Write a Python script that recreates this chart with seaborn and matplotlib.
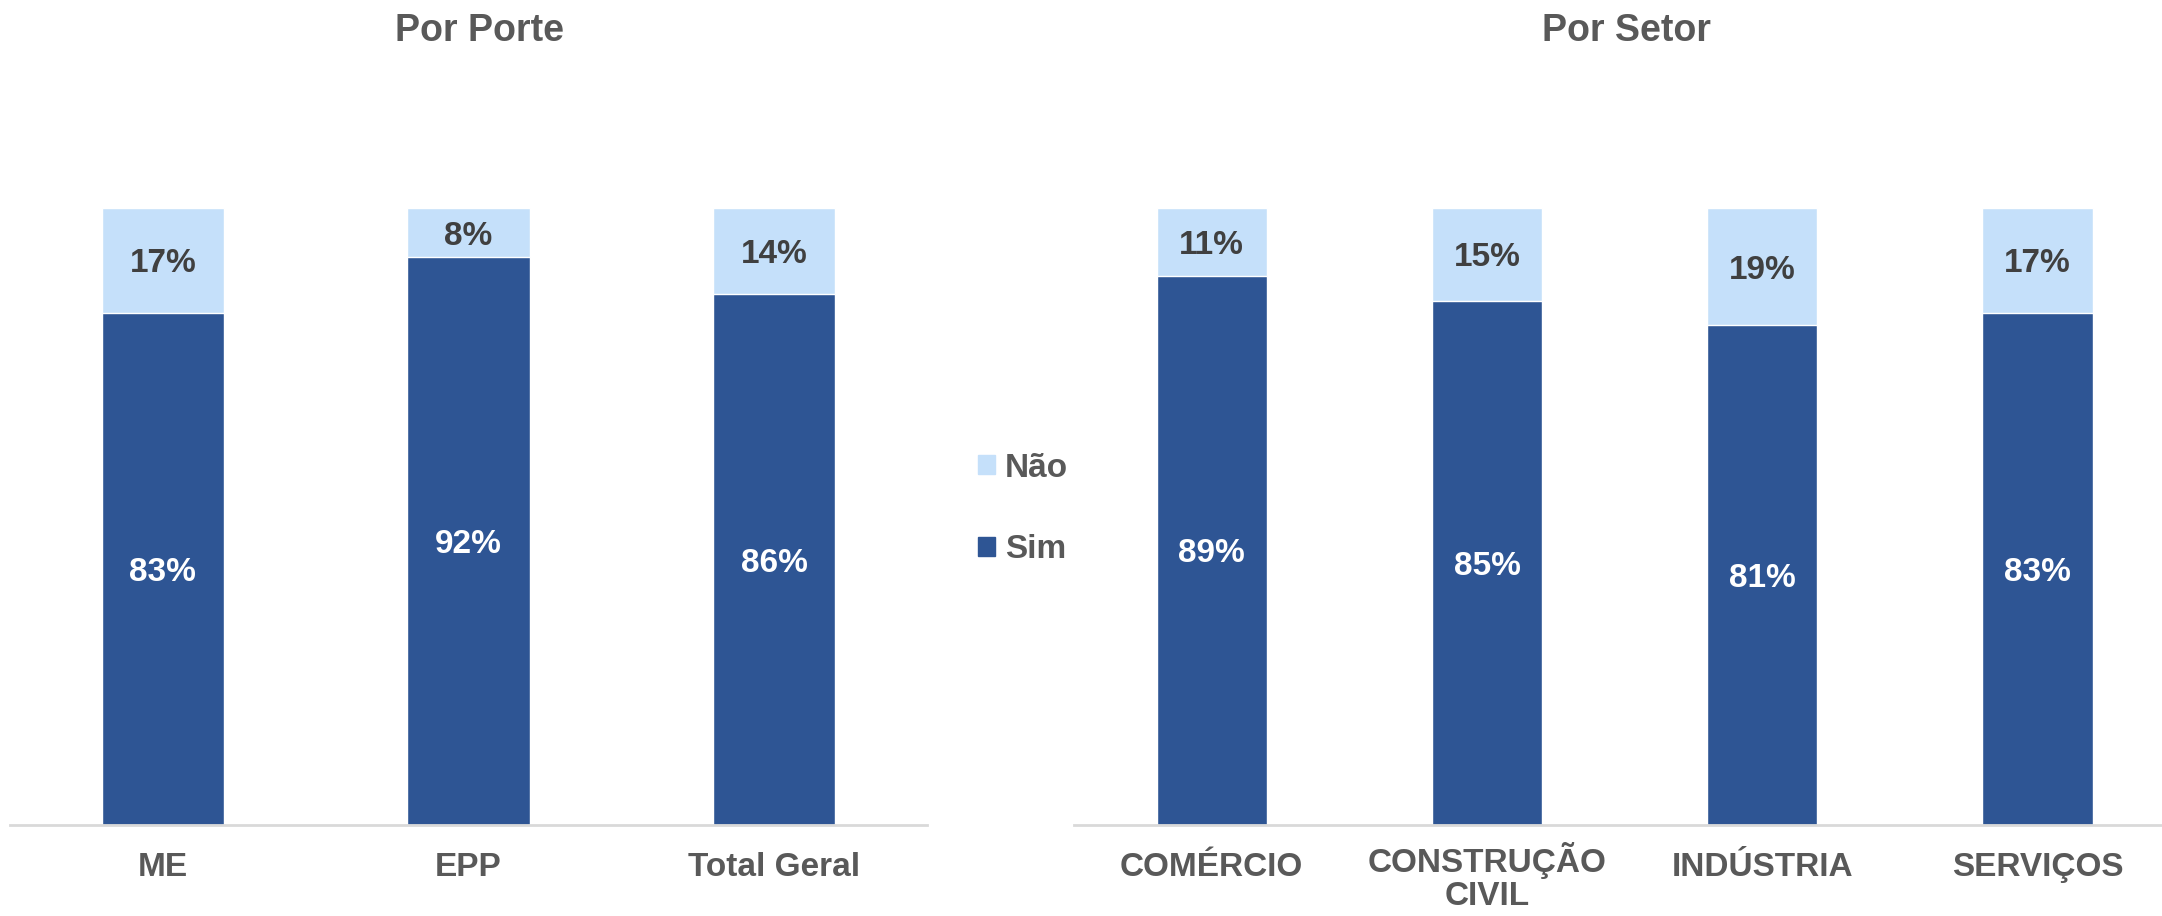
import seaborn as sns
import matplotlib.pyplot as plt
import pandas as pd
from matplotlib.patches import Patch
from matplotlib.transforms import ScaledTranslation

# dados
porte = ['ME', 'EPP', 'Total Geral']
porte_sim = [83, 92, 86]
porte_nao = [17, 8, 14]

setor = ['COMÉRCIO', 'CONSTRUÇÃO\nCIVIL', 'INDÚSTRIA', 'SERVIÇOS']
setor_sim = [89, 85, 81, 83]
setor_nao = [11, 15, 19, 17]

azul = '#2E5594'
azul_claro = '#C5E0FA'
cinza = '#595959'

sns.set_style('white')
plt.rcParams['font.family'] = ['Liberation Sans', 'DejaVu Sans']
plt.rcParams['font.weight'] = 'bold'

fig = plt.figure(figsize=(21.62, 9.16), dpi=100)
ax1 = fig.add_axes([10 / 2162, 91 / 916, 917 / 2162, 617 / 916])
ax2 = fig.add_axes([1074 / 2162, 91 / 916, 1088 / 2162, 617 / 916])


def empilhado(ax, cats, sim, nao, xmax):
    df = pd.DataFrame({'cat': cats, 'sim': sim, 'nao': nao})
    df['total'] = df['sim'] + df['nao']
    sns.barplot(data=df, x='cat', y='total', color=azul_claro, width=0.4,
                saturation=1, ax=ax)
    sns.barplot(data=df, x='cat', y='sim', color=azul, width=0.4,
                saturation=1, ax=ax)
    for i, row in df.iterrows():
        ax.text(i, row['sim'] / 2, f"{row['sim']}%", ha='center',
                va='center_baseline', color='white', fontsize=24,
                fontweight='bold')
        ax.text(i, row['sim'] + row['nao'] / 2, f"{row['nao']}%", ha='center',
                va='center_baseline', color='#404040', fontsize=24,
                fontweight='bold')
    ax.set_ylim(0, 100)
    ax.set_xlim(-0.5, xmax)
    ax.set_xlabel('')
    ax.set_ylabel('')
    ax.set_yticks([])
    for s in ['top', 'right', 'left']:
        ax.spines[s].set_visible(False)
    ax.spines['bottom'].set_color('#D9D9D9')
    ax.spines['bottom'].set_linewidth(2)
    ax.tick_params(axis='x', length=0, pad=36.5, labelsize=24, labelcolor=cinza)
    for t in ax.get_xticklabels():
        t.set_fontweight('bold')
        t.set_va('baseline')
        t.set_linespacing(1.1)
        n = t.get_text().count('\n')
        if n:
            # baseline vale para a ultima linha: desce o rotulo de duas linhas
            t.set_transform(t.get_transform()
                            + ScaledTranslation(0, -0.295 * n, fig.dpi_scale_trans))


empilhado(ax1, porte, porte_sim, porte_nao, 2.5)
empilhado(ax2, setor, setor_sim, setor_nao, -0.5 + 1088 / 275.3)

fig.text(480 / 2162, 1 - 31 / 916, 'Por Porte', ha='center', va='center',
         fontsize=27, fontweight='bold', color=cinza)
fig.text(1627 / 2162, 1 - 31 / 916, 'Por Setor', ha='center', va='center',
         fontsize=27, fontweight='bold', color=cinza)

handles = [Patch(color=azul_claro, label='Não'), Patch(color=azul, label='Sim')]
fig.legend(handles=handles, loc='center left',
           bbox_to_anchor=(978 / 2162, 1 - 509 / 916), frameon=False,
           fontsize=24, labelcolor=cinza, handlelength=0.5, handleheight=0.5,
           handletextpad=0.3, labelspacing=1.52, borderpad=0, borderaxespad=0)

plt.savefig('out.png', dpi=100)
